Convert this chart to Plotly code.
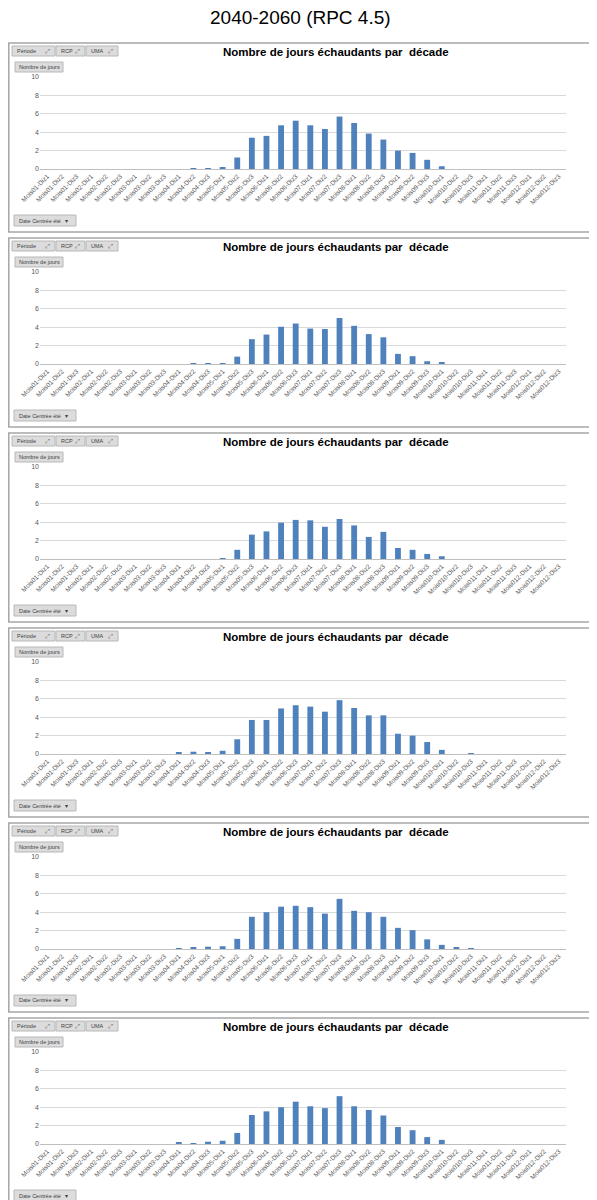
import plotly.graph_objects as go
from plotly.subplots import make_subplots

decades = [
    "Mois01-Diz1", "Mois01-Diz2", "Mois01-Diz3", "Mois02-Diz1", "Mois02-Diz2", "Mois02-Diz3",
    "Mois03-Diz1", "Mois03-Diz2", "Mois03-Diz3", "Mois04-Diz1", "Mois04-Diz2", "Mois04-Diz3",
    "Mois05-Diz1", "Mois05-Diz2", "Mois05-Diz3", "Mois06-Diz1", "Mois06-Diz2", "Mois06-Diz3",
    "Mois07-Diz1", "Mois07-Diz2", "Mois07-Diz3", "Mois08-Diz1", "Mois08-Diz2", "Mois08-Diz3",
    "Mois09-Diz1", "Mois09-Diz2", "Mois09-Diz3", "Mois010-Diz1", "Mois010-Diz2", "Mois010-Diz3",
    "Mois011-Diz1", "Mois011-Diz2", "Mois011-Diz3", "Mois012-Diz1", "Mois012-Diz2", "Mois012-Diz3",
]

# nombre de jours échaudants par décade, un graphique par panneau
panel1 = [0, 0, 0, 0, 0, 0, 0, 0, 0, 0, 0.1, 0.1, 0.15, 1.25, 3.4, 3.6, 4.75, 5.25,
          4.75, 4.35, 5.7, 5.0, 3.85, 3.2, 2.0, 1.75, 1.0, 0.3, 0, 0, 0, 0, 0, 0, 0, 0]
panel2 = [0, 0, 0, 0, 0, 0, 0, 0, 0, 0, 0.07, 0.04, 0.1, 0.8, 2.7, 3.2, 4.05, 4.4,
          3.85, 3.8, 5.0, 4.15, 3.25, 2.9, 1.1, 0.85, 0.3, 0.2, 0, 0, 0, 0, 0, 0, 0, 0]
panel3 = [0, 0, 0, 0, 0, 0, 0, 0, 0, 0, 0, 0, 0.1, 1.0, 2.65, 3.0, 3.95, 4.25,
          4.2, 3.5, 4.35, 3.65, 2.4, 2.95, 1.2, 1.0, 0.55, 0.3, 0, 0, 0, 0, 0, 0, 0, 0]
panel4 = [0, 0, 0, 0, 0, 0, 0, 0, 0, 0.15, 0.25, 0.15, 0.35, 1.6, 3.7, 3.7, 4.95, 5.3,
          5.15, 4.6, 5.85, 5.0, 4.2, 4.2, 2.2, 2.0, 1.3, 0.45, 0, 0.05, 0, 0, 0, 0, 0, 0]
panel5 = [0, 0, 0, 0, 0, 0, 0, 0, 0, 0.07, 0.15, 0.25, 0.3, 1.1, 3.5, 4.0, 4.6, 4.7,
          4.55, 3.85, 5.45, 4.15, 4.0, 3.5, 2.3, 2.05, 1.05, 0.45, 0.15, 0.07, 0, 0, 0, 0, 0, 0]
panel6 = [0, 0, 0, 0, 0, 0, 0, 0, 0, 0.15, 0.07, 0.25, 0.35, 1.2, 3.15, 3.55, 4.0, 4.6,
          4.1, 3.9, 5.2, 4.1, 3.7, 3.1, 1.85, 1.5, 0.75, 0.45, 0, 0, 0, 0, 0, 0, 0, 0]

panels = [panel1, panel2, panel3, panel4, panel5, panel6]

W, H = 597, 1200
STEP = 195   # hauteur d'un panneau en px
PAGE = 8     # marge du <body> dans la page html


def px(x):
    return (x - PAGE) / W


def py(y):
    return 1 - (y - PAGE) / H


fig = make_subplots(rows=6, cols=1)

shapes = []
annotations = [dict(
    text="2040-2060 (RPC 4.5)", x=px(300), y=py(18), xref="paper", yref="paper",
    showarrow=False, font=dict(size=19, color="#000000"), xanchor="center", yanchor="middle",
)]

btn = dict(type="rect", xref="paper", yref="paper", fillcolor="#dcdcdc",
           line=dict(color="#b8b8b8", width=1))

for i, vals in enumerate(panels):
    off = STEP * i
    fig.add_trace(go.Bar(
        x=decades, y=vals, marker=dict(color="#4f81bd", line=dict(width=0)),
        showlegend=False, hoverinfo="x+y",
    ), row=i + 1, col=1)

    ax = "xaxis" if i == 0 else f"xaxis{i + 1}"
    ay = "yaxis" if i == 0 else f"yaxis{i + 1}"
    fig.layout[ax].update(
        domain=[px(40), px(566)], tickangle=-45, showgrid=False, automargin=False,
        showline=True, linecolor="#bfbfbf", linewidth=1,
        tickfont=dict(size=6.5, color="#595959"), range=[-0.5, 35.5],
        ticks="", fixedrange=True,
    )
    fig.layout[ay].update(
        domain=[py(169 + off), py(77 + off)], range=[0, 10], dtick=2, automargin=False,
        showgrid=True, gridcolor="#d9d9d9", gridwidth=1, zeroline=False,
        tickfont=dict(size=7, color="#595959"), ticks="", fixedrange=True,
    )

    # cadre du graphique
    shapes.append(dict(type="rect", xref="paper", yref="paper",
                       x0=px(8.8), x1=px(592), y0=py(232 + off), y1=py(43 + off),
                       line=dict(color="#a6a6a6", width=1.5), fillcolor="rgba(0,0,0,0)"))
    # boutons de filtre
    for x0, x1, label in [(12, 55, "Période"), (56, 85, "RCP"), (86, 118, "UMA")]:
        shapes.append(dict(btn, x0=px(x0), x1=px(x1), y0=py(56 + off), y1=py(46 + off)))
        annotations.append(dict(text=label, x=px(x0 + 3), y=py(51 + off), xref="paper", yref="paper",
                                showarrow=False, xanchor="left", yanchor="middle",
                                font=dict(size=5.5, color="#404040")))
        annotations.append(dict(text="⤢", x=px(x1 - 3), y=py(51 + off), xref="paper", yref="paper",
                                showarrow=False, xanchor="right", yanchor="middle",
                                font=dict(size=6, color="#606060")))
    shapes.append(dict(btn, x0=px(15), x1=px(63), y0=py(72 + off), y1=py(62 + off)))
    annotations.append(dict(text="Nombre de jours", x=px(39), y=py(67 + off), xref="paper", yref="paper",
                            showarrow=False, xanchor="center", yanchor="middle",
                            font=dict(size=5.5, color="#404040")))
    shapes.append(dict(btn, x0=px(14), x1=px(76), y0=py(226 + off), y1=py(215 + off)))
    annotations.append(dict(text="Date Centrée été   ▾", x=px(17), y=py(220.5 + off), xref="paper", yref="paper",
                            showarrow=False, xanchor="left", yanchor="middle",
                            font=dict(size=5.5, color="#404040")))
    # titre du graphique
    annotations.append(dict(text="<b>Nombre de jours échaudants par  décade</b>", x=px(336), y=py(52 + off),
                            xref="paper", yref="paper", showarrow=False, xanchor="center", yanchor="middle",
                            font=dict(size=11.5, color="#000000")))

fig.update_layout(
    width=W, height=H,
    margin=dict(l=0, r=0, t=0, b=0, autoexpand=False),
    paper_bgcolor="#ffffff", plot_bgcolor="#ffffff",
    font=dict(family="Liberation Sans, Arial, sans-serif"),
    bargap=0.6,
    shapes=shapes, annotations=annotations,
)

fig.write_html("out.html", config=dict(displayModeBar=False))
